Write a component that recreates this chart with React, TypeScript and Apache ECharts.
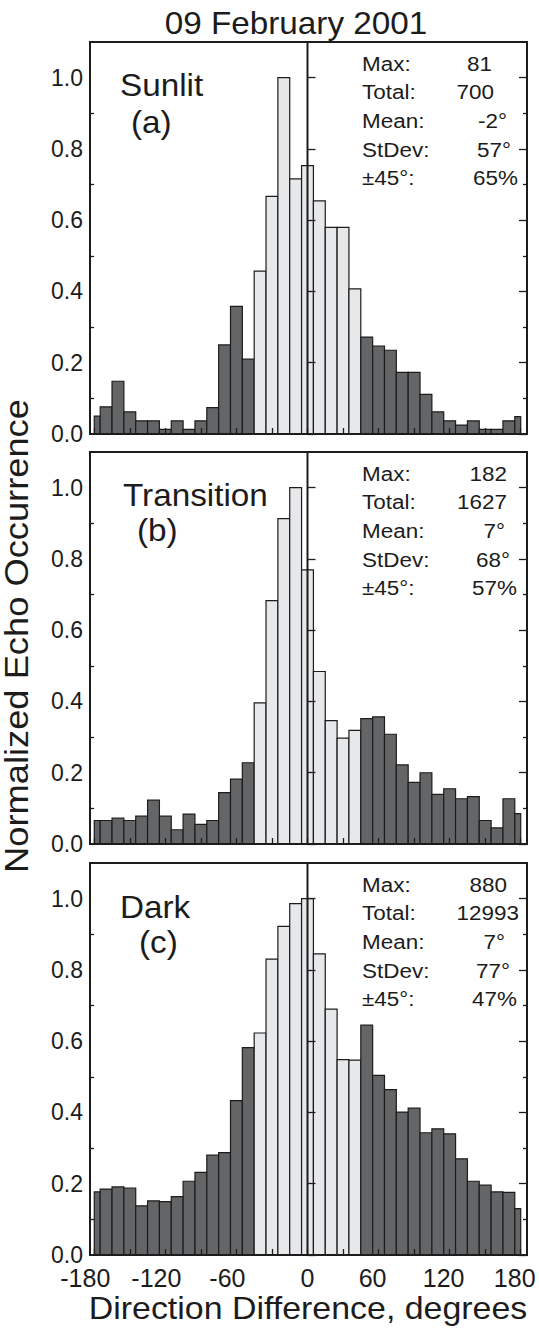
import React, { useEffect, useRef } from 'react';
import * as echarts from 'echarts';

// ---------- data ----------
const BIN_CENTERS = [
  -180, -170, -160, -150, -140, -130, -120, -110, -100, -90, -80, -70, -60, -50, -40, -30, -20, -10,
  0, 10, 20, 30, 40, 50, 60, 70, 80, 90, 100, 110, 120, 130, 140, 150, 160, 170, 180,
];

const SUNLIT = [
  0.05, 0.076, 0.148, 0.062, 0.037, 0.037, 0.013, 0.037, 0.013, 0.037, 0.074, 0.25, 0.358, 0.21,
  0.457, 0.667, 1.0, 0.716, 0.753, 0.654, 0.58, 0.58, 0.407, 0.272, 0.247, 0.235, 0.173, 0.173,
  0.111, 0.062, 0.037, 0.025, 0.037, 0.013, 0.013, 0.037, 0.049,
];

const TRANSITION = [
  0.066, 0.066, 0.073, 0.066, 0.078, 0.123, 0.078, 0.04, 0.084, 0.055, 0.066, 0.144, 0.182, 0.228,
  0.396, 0.683, 0.913, 1.0, 0.769, 0.484, 0.346, 0.297, 0.319, 0.352, 0.357, 0.308, 0.222, 0.173,
  0.2, 0.139, 0.155, 0.127, 0.133, 0.066, 0.045, 0.127, 0.085,
];

const DARK = [
  0.177, 0.185, 0.191, 0.188, 0.138, 0.152, 0.15, 0.164, 0.207, 0.232, 0.28, 0.287, 0.433, 0.582,
  0.623, 0.83, 0.922, 0.986, 1.0, 0.845, 0.69, 0.548, 0.547, 0.645, 0.504, 0.464, 0.401, 0.412,
  0.343, 0.354, 0.34, 0.27, 0.207, 0.196, 0.177, 0.176, 0.13,
];

const X_TICKS = [-180, -150, -120, -90, -60, -30, 0, 30, 60, 90, 120, 150, 180];
const X_LABELS = [-180, -120, -60, 0, 60, 120, 180];
const Y_MAJOR = [0, 0.2, 0.4, 0.6, 0.8, 1.0];
const Y_MINOR = [0.1, 0.3, 0.5, 0.7, 0.9];

const TITLE = '09 February 2001';
const Y_TITLE = 'Normalized Echo Occurrence';
const X_TITLE = 'Direction Difference, degrees';
const PANEL_NAMES = ['Sunlit', 'Transition', 'Dark'];
const PANEL_TAGS = ['(a)', '(b)', '(c)'];
const STAT_LABELS = ['Max:', 'Total:', 'Mean:', 'StDev:', '\u00B145\u00B0:'];
const STATS_SUNLIT = ['81', '700', '-2\u00B0', '57\u00B0', '65%'];
const STATS_TRANSITION = ['182', '1627', '7\u00B0', '68\u00B0', '57%'];
const STATS_DARK = ['880', '12993', '7\u00B0', '77\u00B0', '47%'];

// ---------- layout / style ----------
const W = 539;
const H = 1329;
const FONT = '"Liberation Sans", Arial, Helvetica, sans-serif';
const INK = '#1c1c1c';
const DARK_FILL = '#646567';
const LIGHT_FILL = '#e7e8ea';
const GRID_LEFT = 90;
const GRID_RIGHT_EDGE = 527;
const GRID_TOPS = [42, 452, 863];
const GRID_H = 392;
const X_MIN = -183.6;
const X_MAX = 185.3;
const Y_MAX = 1.1;
const STAT_ROWS = [22, 50, 79, 108, 136];
const STAT_RIGHT = [
  [492, 494, 507, 511, 518],
  [507, 507, 505, 510, 517],
  [507, 519, 505, 510, 517],
];
const NAME_POS = [
  { name: [120, 43], tag: [131, 80] },
  { name: [123, 43], tag: [137, 78] },
  { name: [120, 44], tag: [139, 79] },
];

function txt(text: string, x: number, y: number, size: number, align: string, scaleX = 1.0, rotation = 0) {
  return {
    type: 'text',
    x,
    y,
    scaleX,
    rotation,
    z: 20,
    style: {
      text,
      font: `${size}px ${FONT}`,
      fill: INK,
      textAlign: align,
      textVerticalAlign: 'middle',
      align,
      verticalAlign: 'middle',
    },
  };
}

export default function App() {
  const ref = useRef<HTMLDivElement>(null);

  useEffect(() => {
    if (!ref.current) return;
    const chart = echarts.init(ref.current, undefined, { renderer: 'svg' });
    const panels = [SUNLIT, TRANSITION, DARK];
    const stats = [STATS_SUNLIT, STATS_TRANSITION, STATS_DARK];

    const grids: any[] = [];
    const xAxes: any[] = [];
    const yAxes: any[] = [];
    const series: any[] = [];
    const graphics: any[] = [];

    panels.forEach((vals, i) => {
      const top = GRID_TOPS[i];
      grids.push({
        left: GRID_LEFT,
        width: GRID_RIGHT_EDGE - GRID_LEFT,
        top,
        height: GRID_H,
        show: true,
        borderColor: INK,
        borderWidth: 2,
        backgroundColor: 'transparent',
        containLabel: false,
        outerBoundsMode: 'none',
      });
      const isLast = i === panels.length - 1;
      xAxes.push({
        type: 'value',
        gridIndex: i,
        min: X_MIN,
        max: X_MAX,
        z: 10,
        axisLine: { show: true, onZero: false, lineStyle: { color: INK, width: 2 } },
        axisTick: {
          show: true,
          inside: true,
          length: 6,
          customValues: X_TICKS,
          lineStyle: { color: INK, width: 1.3 },
        },
        axisLabel: isLast
          ? {
              show: true,
              customValues: X_LABELS,
              margin: 12,
              fontSize: 25,
              lineHeight: 22,
              fontFamily: FONT,
              color: INK,
              formatter: (v: number) => (v === 0 ? '{z|0}' : v < 0 ? `{n|${v}}` : `{p|${v}}`),
              rich: {
                z: { fontSize: 25, lineHeight: 22, fontFamily: FONT, color: INK, padding: [0, 0, 0, 0] },
                n: { fontSize: 25, lineHeight: 22, fontFamily: FONT, color: INK, padding: [0, 18, 0, 0] },
                p: { fontSize: 25, lineHeight: 22, fontFamily: FONT, color: INK, padding: [0, 12, 0, 0] },
              },
            }
          : { show: false },
        splitLine: { show: false },
      });
      const yBase = {
        type: 'value',
        gridIndex: i,
        min: 0,
        max: Y_MAX,
        z: 10,
        splitLine: { show: false },
        axisLine: { show: false },
      };
      // left major (with labels)
      yAxes.push({
        ...yBase,
        position: 'left',
        axisTick: { show: true, inside: true, length: 8, customValues: Y_MAJOR, lineStyle: { color: INK, width: 1.3 } },
        axisLabel: {
          show: true,
          customValues: Y_MAJOR,
          margin: 7,
          fontSize: 23,
          lineHeight: 18,
          fontFamily: FONT,
          color: INK,
          formatter: (v: number) => v.toFixed(1),
        },
      });
      // left minor
      yAxes.push({
        ...yBase,
        position: 'left',
        axisTick: { show: true, inside: true, length: 4, customValues: Y_MINOR, lineStyle: { color: INK, width: 1.3 } },
        axisLabel: { show: false },
      });
      // right major
      yAxes.push({
        ...yBase,
        position: 'right',
        axisTick: { show: true, inside: true, length: 8, customValues: Y_MAJOR, lineStyle: { color: INK, width: 1.3 } },
        axisLabel: { show: false },
      });
      // right minor
      yAxes.push({
        ...yBase,
        position: 'right',
        axisTick: { show: true, inside: true, length: 4, customValues: Y_MINOR, lineStyle: { color: INK, width: 1.3 } },
        axisLabel: { show: false },
      });

      series.push({
        type: 'custom',
        coordinateSystem: 'cartesian2d',
        xAxisIndex: i,
        yAxisIndex: i * 4,
        encode: { x: 0, y: 1 },
        z: 3,
        data: BIN_CENTERS.map((c, k) => [c, vals[k]]),
        renderItem: (params: any, api: any) => {
          const c = api.value(0);
          const v = api.value(1);
          const x0 = Math.max(c - 5, -180);
          const x1 = Math.min(c + 5, 180);
          const p0 = api.coord([x0, v]);
          const p1 = api.coord([x1, 0]);
          return {
            type: 'rect',
            shape: { x: p0[0], y: p0[1], width: p1[0] - p0[0], height: p1[1] - p0[1] },
            style: {
              fill: Math.abs(c) <= 40 ? LIGHT_FILL : DARK_FILL,
              stroke: INK,
              lineWidth: 1.2,
            },
          };
        },
      });
      series.push({
        type: 'line',
        xAxisIndex: i,
        yAxisIndex: i * 4,
        z: 6,
        symbol: 'none',
        silent: true,
        lineStyle: { color: INK, width: 2 },
        data: [
          [0, 0],
          [0, Y_MAX],
        ],
      });

      // panel name and tag
      graphics.push(txt(PANEL_NAMES[i], NAME_POS[i].name[0], top + NAME_POS[i].name[1], 32, 'left', 1.04));
      graphics.push(txt(PANEL_TAGS[i], NAME_POS[i].tag[0], top + NAME_POS[i].tag[1], 32, 'left', 1.04));
      // stats box
      STAT_LABELS.forEach((lab, r) => {
        graphics.push(txt(lab, 362, top + STAT_ROWS[r], 21, 'left', 1.07));
        graphics.push(txt(stats[i][r], STAT_RIGHT[i][r], top + STAT_ROWS[r], 21, 'right', 1.07));
      });
    });

    graphics.push(txt(TITLE, 296, 23, 32, 'center', 1.04));
    graphics.push(txt(X_TITLE, 308, 1308, 32, 'center', 1.06));
    graphics.push(txt(Y_TITLE, 17, 636, 33, 'center', 1.1, Math.PI / 2));

    chart.setOption({
      animation: false,
      backgroundColor: '#ffffff',
      textStyle: { fontFamily: FONT },
      grid: grids,
      xAxis: xAxes,
      yAxis: yAxes,
      series,
      graphic: graphics,
    });

    return () => {
      chart.dispose();
    };
  }, []);

  return (
    <div
      ref={ref}
      style={{ position: 'absolute', left: 0, top: 0, width: W, height: H, background: '#fff' }}
    />
  );
}
